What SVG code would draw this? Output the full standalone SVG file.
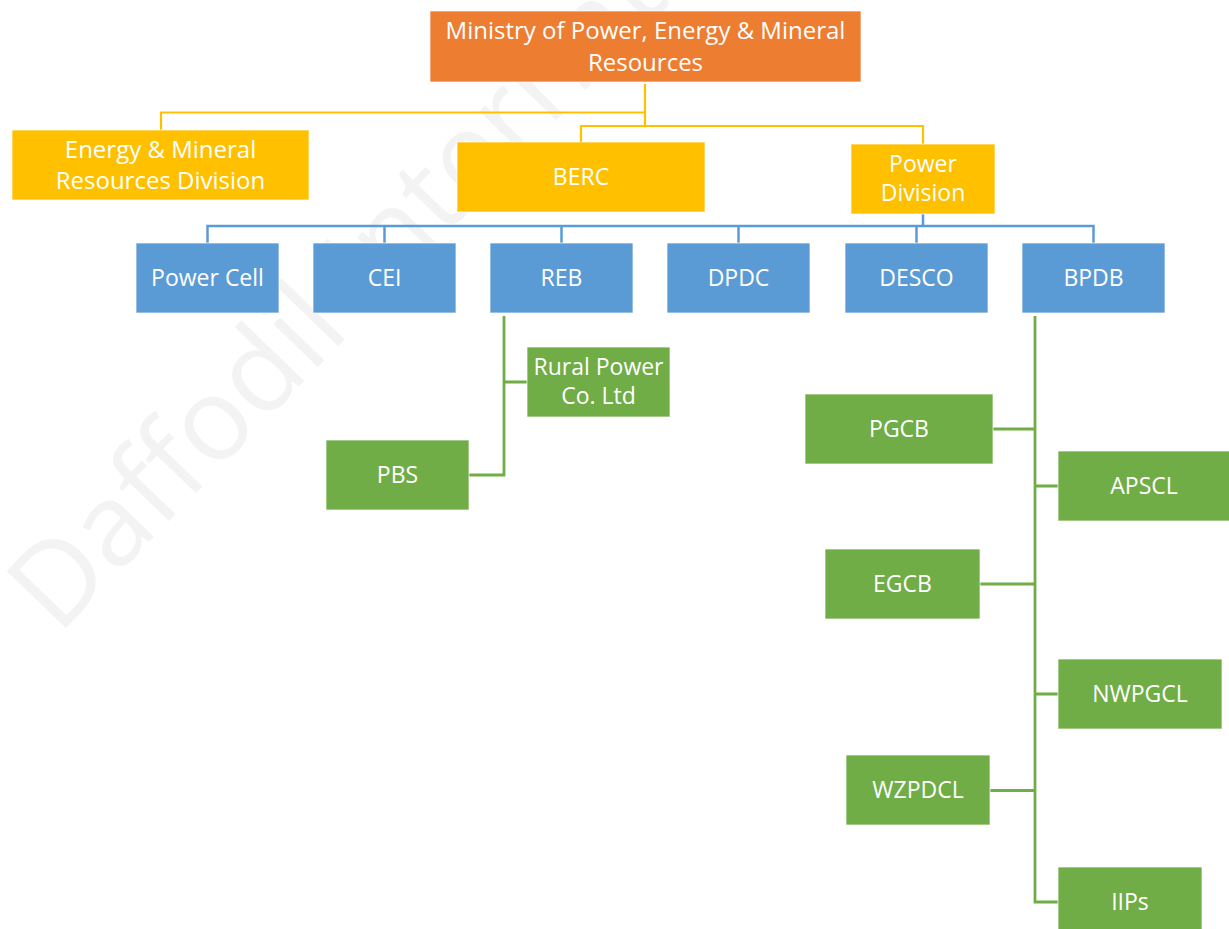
<svg xmlns="http://www.w3.org/2000/svg" width="1229" height="929" viewBox="0 0 1229 929">
<style>
  .box { stroke: #ffffff; stroke-width: 1; stroke-opacity: 0.7; }
  .orange { fill: #ED7D31; }
  .yellow { fill: #FFC000; }
  .blue { fill: #5B9BD5; }
  .green { fill: #70AD47; }
  .lbl { font-family: "Open Sans", "Noto Sans", sans-serif; font-size: 23px; fill: #ffffff; text-anchor: middle; }
  .big { font-size: 24px; }
  .cy { fill: none; stroke: #FFC000; stroke-width: 2.2; }
  .cb { fill: none; stroke: #5B9BD5; stroke-width: 2.5; }
  .cg { fill: none; stroke: #70AD47; stroke-width: 2.8; }
  .wm { font-family: "Open Sans", "Noto Sans", sans-serif; font-size: 115px; fill: #f3f3f3; }
</style>
<rect width="1229" height="929" fill="#ffffff"/>
<text class="wm" transform="translate(58,636) rotate(-46)">Daffodil International</text>

<g id="connectors">
  <path class="cy" d="M645,84 V126 M645,112.5 H161 V130 M581,142 V126 H923 V144"/>
  <path class="cb" d="M923,214 V226 M207.5,243 V226 H1093.5 V243 M384.5,226 V243 M561.5,226 V243 M738.5,226 V243 M916.5,226 V243"/>
  <path class="cg" d="M504,316 V475 H469 M504,382 H527"/>
  <path class="cg" d="M1035,316 V902 H1058 M993,429 H1035 M1035,486 H1058 M980,584 H1035 M1035,694 H1058 M990,790.5 H1035"/>
</g>

<g id="ministry">
  <rect class="box orange" x="430" y="11" width="431" height="71"/>
  <text class="lbl big" x="645.5" y="39">Ministry of Power, Energy &amp; Mineral</text>
  <text class="lbl big" x="645.5" y="71">Resources</text>
</g>
<g id="emrd">
  <rect class="box yellow" x="12" y="130" width="297" height="70"/>
  <text class="lbl big" x="160.5" y="158">Energy &amp; Mineral</text>
  <text class="lbl big" x="160.5" y="189">Resources Division</text>
</g>
<g id="berc">
  <rect class="box yellow" x="457" y="142" width="248" height="70"/>
  <text class="lbl" x="581" y="185">BERC</text>
</g>
<g id="power-division">
  <rect class="box yellow" x="851" y="144" width="144" height="70"/>
  <text class="lbl" x="923" y="172">Power</text>
  <text class="lbl" x="923" y="201">Division</text>
</g>

<g id="power-cell">
  <rect class="box blue" x="136" y="243" width="143" height="70"/>
  <text class="lbl" x="207.5" y="286">Power Cell</text>
</g>
<g id="cei">
  <rect class="box blue" x="313" y="243" width="143" height="70"/>
  <text class="lbl" x="384.5" y="286">CEI</text>
</g>
<g id="reb">
  <rect class="box blue" x="490" y="243" width="143" height="70"/>
  <text class="lbl" x="561.5" y="286">REB</text>
</g>
<g id="dpdc">
  <rect class="box blue" x="667" y="243" width="143" height="70"/>
  <text class="lbl" x="738.5" y="286">DPDC</text>
</g>
<g id="desco">
  <rect class="box blue" x="845" y="243" width="143" height="70"/>
  <text class="lbl" x="916.5" y="286">DESCO</text>
</g>
<g id="bpdb">
  <rect class="box blue" x="1022" y="243" width="143" height="70"/>
  <text class="lbl" x="1093.5" y="286">BPDB</text>
</g>

<g id="rural-power">
  <rect class="box green" x="527" y="347" width="143" height="70"/>
  <text class="lbl" x="598.5" y="375">Rural Power</text>
  <text class="lbl" x="598.5" y="404">Co. Ltd</text>
</g>
<g id="pbs">
  <rect class="box green" x="326" y="440" width="143" height="70"/>
  <text class="lbl" x="397.5" y="483">PBS</text>
</g>
<g id="pgcb">
  <rect class="box green" x="805" y="394" width="188" height="70"/>
  <text class="lbl" x="899" y="437">PGCB</text>
</g>
<g id="apscl">
  <rect class="box green" x="1058" y="451" width="173" height="70"/>
  <text class="lbl" x="1144" y="494">APSCL</text>
</g>
<g id="egcb">
  <rect class="box green" x="825" y="549" width="155" height="70"/>
  <text class="lbl" x="902.5" y="592">EGCB</text>
</g>
<g id="nwpgcl">
  <rect class="box green" x="1058" y="659" width="164" height="70"/>
  <text class="lbl" x="1140" y="702">NWPGCL</text>
</g>
<g id="wzpdcl">
  <rect class="box green" x="846" y="755" width="144" height="70"/>
  <text class="lbl" x="918" y="798">WZPDCL</text>
</g>
<g id="iips">
  <rect class="box green" x="1058" y="867" width="144" height="70"/>
  <text class="lbl" x="1130" y="910">IIPs</text>
</g>
</svg>
